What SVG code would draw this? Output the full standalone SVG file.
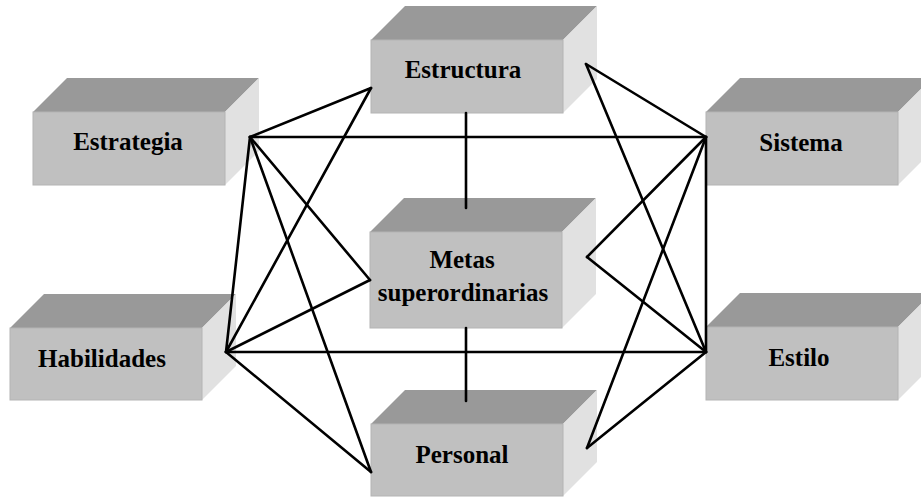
<svg xmlns="http://www.w3.org/2000/svg" width="921" height="497" viewBox="0 0 921 497">
<style>
.top{fill:#999999}
.front{fill:#c0c0c0;stroke:#b4b4b4;stroke-width:1}
.side{fill:#e1e1e1}
.lbl{font-family:"Liberation Serif","Times New Roman",serif;font-weight:bold;font-size:25px;fill:#000;text-anchor:middle}
.conn line{stroke:#000;stroke-width:2.6;stroke-linecap:round}
</style>
<rect width="921" height="497" fill="#fff"/>
<g id="estructura">
<polygon class="top" points="371,40 405,6 597,6 563,40"/>
<polygon class="side" points="563,40 597,6 597,79 563,113"/>
<rect class="front" x="371" y="40" width="192" height="73"/>
<text class="lbl" x="463" y="78">Estructura</text>
</g>
<g id="estrategia">
<polygon class="top" points="33,112 67,78 259,78 225,112"/>
<polygon class="side" points="225,112 259,78 259,151 225,185"/>
<rect class="front" x="33" y="112" width="192" height="73"/>
<text class="lbl" x="128" y="150">Estrategia</text>
</g>
<g id="sistema">
<polygon class="top" points="706,112 740,78 932,78 898,112"/>
<polygon class="side" points="898,112 932,78 932,151 898,185"/>
<rect class="front" x="706" y="112" width="192" height="73"/>
<text class="lbl" x="801" y="151">Sistema</text>
</g>
<g id="metas">
<polygon class="top" points="370,232 404,198 596,198 562,232"/>
<polygon class="side" points="562,232 596,198 596,294 562,328"/>
<rect class="front" x="370" y="232" width="192" height="96"/>
<text class="lbl" x="462" y="268">Metas</text>
<text class="lbl" x="463" y="301">superordinarias</text>
</g>
<g id="habilidades">
<polygon class="top" points="10,328 44,294 236,294 202,328"/>
<polygon class="side" points="202,328 236,294 236,366 202,400"/>
<rect class="front" x="10" y="328" width="192" height="72"/>
<text class="lbl" x="102" y="367">Habilidades</text>
</g>
<g id="estilo">
<polygon class="top" points="706,327 740,293 932,293 898,327"/>
<polygon class="side" points="898,327 932,293 932,366 898,400"/>
<rect class="front" x="706" y="327" width="192" height="73"/>
<text class="lbl" x="799" y="366">Estilo</text>
</g>
<g id="personal">
<polygon class="top" points="371,424 405,390 597,390 563,424"/>
<polygon class="side" points="563,424 597,390 597,462 563,496"/>
<rect class="front" x="371" y="424" width="192" height="72"/>
<text class="lbl" x="462" y="463">Personal</text>
</g>
<g class="conn" id="connectors">
<line x1="250" y1="137" x2="706" y2="137"/>
<line x1="250" y1="137" x2="371" y2="88"/>
<line x1="250" y1="137" x2="370" y2="280"/>
<line x1="250" y1="137" x2="371" y2="472"/>
<line x1="250" y1="137" x2="226" y2="352"/>
<line x1="226" y1="352" x2="706" y2="352"/>
<line x1="226" y1="352" x2="371" y2="88"/>
<line x1="226" y1="352" x2="370" y2="280"/>
<line x1="226" y1="352" x2="371" y2="472"/>
<line x1="706" y1="137" x2="586" y2="64"/>
<line x1="706" y1="137" x2="587" y2="257"/>
<line x1="706" y1="137" x2="587" y2="448"/>
<line x1="706" y1="137" x2="706" y2="352"/>
<line x1="706" y1="352" x2="586" y2="64"/>
<line x1="706" y1="352" x2="587" y2="257"/>
<line x1="706" y1="352" x2="587" y2="448"/>
<line x1="466" y1="113" x2="466" y2="208"/>
<line x1="466" y1="328" x2="466" y2="401"/>
</g>
</svg>
